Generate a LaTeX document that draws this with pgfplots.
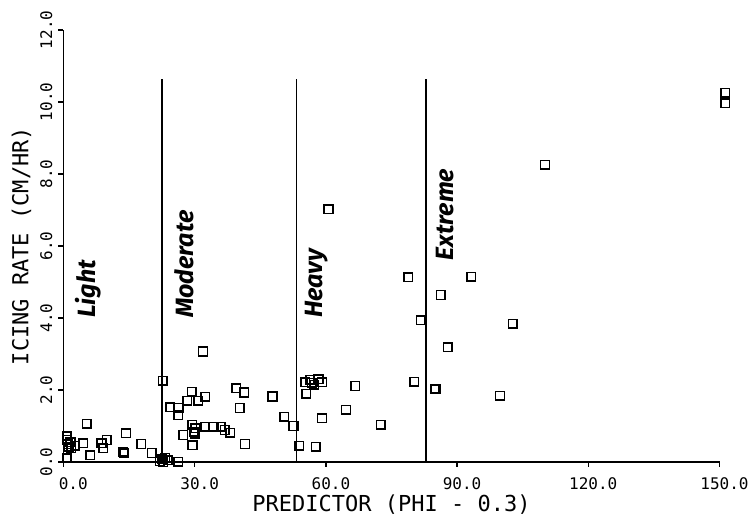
\documentclass[border=0pt]{standalone}
\usepackage{fontspec}
\setmainfont{DejaVu Sans Mono}
\newfontfamily\catfont{Fira Sans}
\usepackage{pgfplots}
\pgfplotsset{compat=1.18}

\begin{document}
\begin{tikzpicture}
\useasboundingbox (-63.5pt,-57pt) rectangle (684.5pt,462pt);
\begin{axis}[
    scale only axis, width=656pt, height=432pt,
    xmin=0, xmax=150, ymin=0, ymax=12,
    axis lines*=left,
    axis line style={line width=1.8pt},
    clip=false,
    xtick={0,30,60,90,120,150},
    xticklabels={\phantom{0}0.0,30.0,60.0,90.0,120.0,150.0},
    ytick={0,2,4,6,8,10,12},
    yticklabels={0.0,2.0,4.0,6.0,8.0,10.0,12.0},
    tick align=outside, major tick length=5pt,
    tick style={line width=1.5pt, black},
    ticklabel style={font=\fontsize{16}{16}\selectfont},
    xticklabel style={anchor=north, inner sep=0pt, yshift=-10.5pt, xshift=5pt},
    yticklabel style={rotate=90, anchor=south, inner xsep=0pt, inner ysep=6pt},
    xlabel={PREDICTOR (PHI - 0.3)},
    xlabel style={font=\fontsize{22}{22}\selectfont, at={([yshift=-43pt]axis description cs:0.5,0)}, anchor=center},
    ylabel={ICING RATE (CM/HR)},
    ylabel style={font=\fontsize{22}{22}\selectfont, at={([xshift=-42pt]axis description cs:0,0.5)}, anchor=center},
]
% region boundaries
\addplot[line width=1.8pt] coordinates {(22.6,0) (22.6,10.64)};
\addplot[line width=1.8pt] coordinates {(53.3,0) (53.3,10.64)};
\addplot[line width=1.8pt] coordinates {(82.8,0) (82.8,10.64)};

% observations
\addplot[only marks, mark=square, mark size=4.3pt, line width=1.5pt] coordinates {
(0.7,0.72) (0.9,0.62) (1.0,0.50) (1.2,0.42) (1.6,0.55) (2.6,0.45)
(0.7,0.10) (1.8,0.38) (4.5,0.52) (5.3,1.06) (6.1,0.19) (8.7,0.52)
(9.1,0.38) (9.9,0.61) (14.3,0.80) (13.9,0.24) (13.7,0.28) (17.8,0.50)
(20.2,0.25)
(22.0,0.02) (22.5,0.08) (23.2,0.12) (23.8,0.05) (22.8,0.00)
(22.7,2.26) (26.2,0.01)
(24.4,1.52) (26.3,1.50) (26.2,1.30) (28.3,1.70) (29.3,1.95) (30.8,1.70)
(32.4,1.81) (31.9,3.07) (27.4,0.75) (29.4,1.03) (30.1,0.94) (29.8,0.84)
(30.0,0.78) (29.5,0.47) (32.4,0.98) (34.3,0.98) (36.0,0.98) (36.9,0.89)
(38.1,0.81) (39.5,2.05) (41.3,1.93) (40.3,1.50) (41.5,0.50) (47.8,1.82)
(50.5,1.26) (52.6,1.00)
(53.9,0.45) (57.7,0.42) (55.5,1.90) (55.3,2.22) (56.4,2.28) (57.3,2.15)
(58.3,2.30) (59.1,2.22) (56.8,2.20) (59.1,1.22) (60.6,7.02) (64.6,1.45)
(66.7,2.11) (72.5,1.04) (78.8,5.13) (80.2,2.23) (81.7,3.94)
(84.9,2.02) (85.1,2.03) (86.3,4.64) (87.9,3.19) (93.2,5.15) (99.8,1.84)
(102.7,3.84) (110.1,8.26) (151.3,10.26) (151.3,9.96)
};

\node[rotate=90, anchor=west, inner sep=0pt, font=\catfont\bfseries\itshape\fontsize{25}{25}\selectfont] at (axis cs:5.7,4.0) {Light};
\node[rotate=90, anchor=west, inner sep=0pt, font=\catfont\bfseries\itshape\fontsize{25}{25}\selectfont] at (axis cs:27.5,4.0) {Moderate};
\node[rotate=90, anchor=west, inner sep=0pt, font=\catfont\bfseries\itshape\fontsize{25}{25}\selectfont] at (axis cs:57.8,4.0) {Heavy};
\node[rotate=90, anchor=west, inner sep=0pt, font=\catfont\bfseries\itshape\fontsize{25}{25}\selectfont] at (axis cs:87.2,5.6) {Extreme};
\end{axis}
\end{tikzpicture}
\end{document}
